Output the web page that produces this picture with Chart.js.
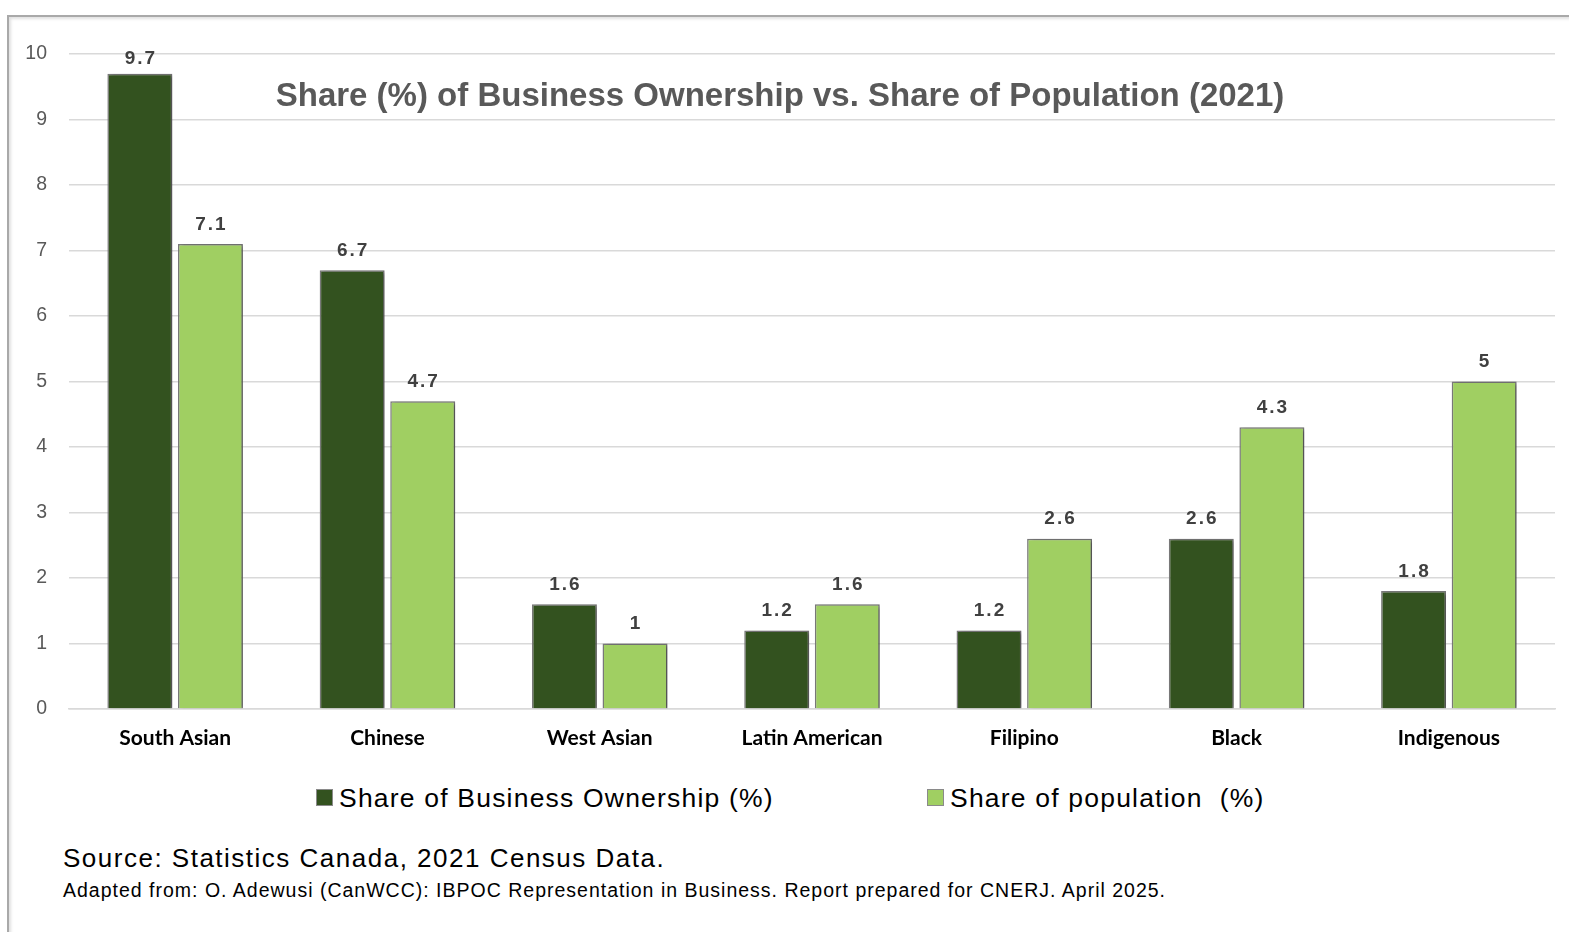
<!DOCTYPE html>
<html>
<head>
<meta charset="utf-8">
<script src="https://cdn.jsdelivr.net/npm/chart.js@4.4.1/dist/chart.umd.min.js"></script>
<style>
  html, body { margin: 0; padding: 0; background: #fff; }
  body { width: 1569px; height: 932px; position: relative; overflow: hidden; }
  #frame {
    position: absolute; left: 7px; top: 15px; width: 1600px; height: 1000px;
    border-top: 2px solid #a9a9a9; border-left: 2px solid #a9a9a9;
    box-shadow: inset 2px 2px 3px rgba(0,0,0,0.12);
  }
  #wrap { position: absolute; left: 0; top: 0; width: 1569px; height: 762px; }
  #title {
    position: absolute; left: 0; width: 1560px; top: 76px; text-align: center;
    font: bold 33px "Liberation Sans", Arial, sans-serif; color: #595959;
  }
  #legend {
    position: absolute; top: 783px; left: 0; width: 1569px; height: 36px;
    font: 26.5px "Liberation Sans", Arial, sans-serif; letter-spacing: 1.2px; color: #000;
  }
  .item { position: absolute; top: 0; white-space: pre; }
  .box { display: inline-block; width: 15px; height: 15px; border: 1.5px solid #8a8a8a; margin-right: 6px; vertical-align: 1px; }
  #src { position: absolute; left: 63px; top: 843px; font: 26px "Liberation Sans", Arial, sans-serif; letter-spacing: 1.5px; color: #000; }
  #adapt { position: absolute; left: 63px; top: 879px; font: 19.5px "Liberation Sans", Arial, sans-serif; letter-spacing: 1px; color: #000; }
</style>
</head>
<body>
<div id="frame"></div>
<div id="wrap"><canvas id="chart"></canvas></div>
<div id="title">Share (%) of Business Ownership vs. Share of Population (2021)</div>
<div id="legend"></div>
<div id="src">Source: Statistics Canada, 2021 Census Data.</div>
<div id="adapt">Adapted from: O. Adewusi (CanWCC): IBPOC Representation in Business. Report prepared for CNERJ. April 2025.</div>
<script>
const categories = ['South Asian', 'Chinese', 'West Asian', 'Latin American', 'Filipino', 'Black', 'Indigenous'];
const ownershipShare = [9.7, 6.7, 1.6, 1.2, 1.2, 2.6, 1.8];
const populationShare = [7.1, 4.7, 1, 1.6, 2.6, 4.3, 5];
const seriesNames = ['Share of Business Ownership (%)', 'Share of population  (%)'];
const seriesColors = ['#33521f', '#a0cf62'];

// soft shadow behind bars, like the office chart
const barShadow = {
  id: 'barShadow',
  beforeDatasetsDraw(chart) {
    const ctx = chart.ctx;
    ctx.save();
    ctx.shadowColor = 'rgba(0,0,0,0.35)';
    ctx.shadowBlur = 4;
    ctx.shadowOffsetX = 3;
    ctx.shadowOffsetY = 1;
  },
  afterDatasetsDraw(chart) {
    chart.ctx.restore();
  }
};

// value labels above each bar (kept inside the top of the plot)
const valueLabels = {
  id: 'valueLabels',
  afterDatasetsDraw(chart) {
    const ctx = chart.ctx;
    ctx.save();
    ctx.font = 'bold 19px "Liberation Sans", Arial, sans-serif';
    ctx.letterSpacing = '2px';
    ctx.fillStyle = '#404040';
    ctx.textAlign = 'center';
    ctx.textBaseline = 'bottom';
    chart.data.datasets.forEach((ds, i) => {
      chart.getDatasetMeta(i).data.forEach((bar, j) => {
        const y = Math.max(bar.y - 10, chart.chartArea.top + 14);
        ctx.fillText(String(ds.data[j]), bar.x + 1, y);
      });
    });
    ctx.restore();
  }
};

const chart = new Chart(document.getElementById('chart'), {
  type: 'bar',
  data: {
    labels: categories,
    datasets: [
      { label: seriesNames[0], data: ownershipShare, backgroundColor: seriesColors[0], borderColor: '#7a7a7a', borderWidth: 1.5 },
      { label: seriesNames[1], data: populationShare, backgroundColor: seriesColors[1], borderColor: '#7a7a7a', borderWidth: 1.5 }
    ]
  },
  options: {
    responsive: true,
    maintainAspectRatio: false,
    animation: false,
    categoryPercentage: 0.665,
    barPercentage: 0.92,
    layout: { padding: { top: 54, right: 14, left: 0, bottom: 0 } },
    plugins: {
      legend: { display: false },
      tooltip: { enabled: false }
    },
    scales: {
      y: {
        min: 0, max: 10,
        ticks: { stepSize: 1, padding: 22, color: '#595959', font: { family: '"Liberation Sans", Arial, sans-serif', size: 19.5 } },
        grid: { color: '#d9d9d9', lineWidth: 1.5, drawTicks: false },
        border: { display: false },
        afterFit(scale) { scale.width = 69; }
      },
      x: {
        ticks: { padding: 17, color: '#000', font: { family: 'Lato, sans-serif', size: 21, weight: 'bold' } },
        grid: { display: false, drawTicks: false },
        border: { display: true, color: '#d9d9d9', width: 1.5 },
        afterFit(scale) { scale.height = 53; }
      }
    }
  },
  plugins: [barShadow, valueLabels]
});

// legend built from the datasets
const legend = document.getElementById('legend');
const legendX = [316, 927];
chart.data.datasets.forEach((ds, i) => {
  const item = document.createElement('div');
  item.className = 'item';
  item.style.left = legendX[i] + 'px';
  item.innerHTML = '<span class="box" style="background:' + ds.backgroundColor + '"></span>' + ds.label;
  legend.appendChild(item);
});
</script>
</body>
</html>
